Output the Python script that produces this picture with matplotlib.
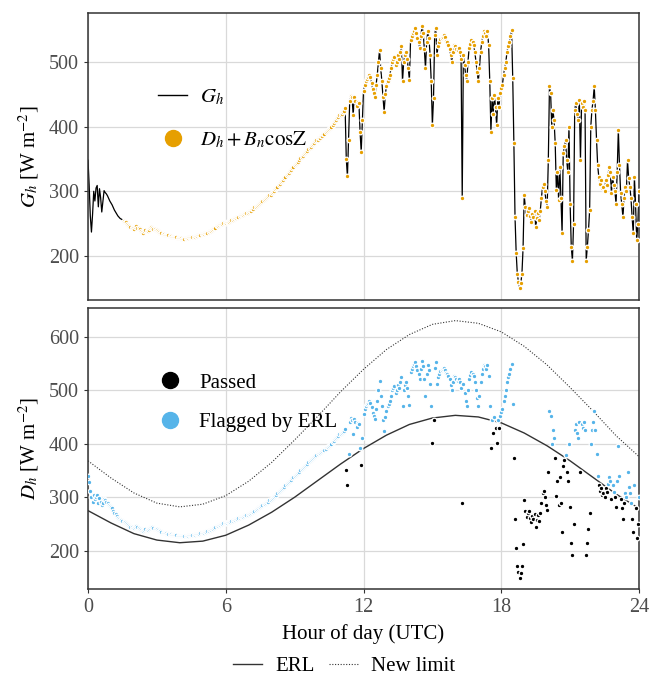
import numpy as np
import matplotlib
matplotlib.use("Agg")
import matplotlib.pyplot as plt
from matplotlib.lines import Line2D

plt.rcParams["font.family"] = ["Liberation Serif", "DejaVu Serif"]
plt.rcParams["mathtext.fontset"] = "stix"

orange = "#E69F00"
blue = "#56B4E9"
grey_txt = "#4d4d4d"

# 3-minute samples, 00:00 to 24:00 UTC
hours = np.arange(481) * 0.05
# global horizontal irradiance (W m-2), one row per hour
gh = [
    348, 310, 262, 237, 265, 300, 285, 305, 309, 276, 304, 290, 268, 285, 301, 298, 296, 293, 289, 285,
    282, 279, 275, 271, 268, 265, 262, 260, 258, 257, 256, 254, 253, 252, 250, 248, 247, 245, 244, 243,
    242, 245, 246, 244, 243, 241, 239, 237, 236, 238, 240, 239, 238, 240, 243, 245, 244, 242, 241, 240,
    240, 238, 237, 236, 235, 234, 234, 233, 233, 232, 232, 231, 231, 230, 230, 229, 229, 229, 228, 228,
    228, 228, 227, 227, 227, 228, 228, 228, 229, 229, 229, 230, 230, 230, 231, 231, 232, 232, 233, 234,
    234, 234, 235, 235, 236, 237, 238, 239, 240, 241, 243, 244, 246, 247, 248, 249, 250, 250, 251, 251,
    251, 252, 253, 253, 254, 255, 256, 257, 258, 259, 260, 261, 262, 263, 263, 264, 265, 266, 266, 267,
    268, 269, 270, 272, 273, 275, 276, 278, 279, 281, 282, 284, 285, 287, 288, 290, 291, 292, 294, 295,
    297, 299, 301, 303, 305, 307, 309, 312, 314, 316, 318, 320, 322, 325, 327, 329, 331, 333, 336, 338,
    340, 342, 344, 346, 348, 351, 353, 355, 357, 359, 361, 363, 365, 367, 369, 371, 373, 375, 377, 379,
    380, 382, 383, 385, 386, 388, 389, 391, 393, 394, 396, 398, 400, 403, 405, 408, 410, 413, 415, 418,
    418, 420, 422, 424, 428, 350, 323, 380, 440, 448, 445, 418, 446, 440, 432, 438, 436, 392, 361, 410,
    455, 464, 470, 474, 477, 480, 476, 468, 458, 452, 446, 465, 480, 500, 518, 490, 470, 445, 423, 450,
    462, 470, 475, 480, 490, 500, 505, 508, 495, 500, 510, 505, 515, 524, 470, 500, 510, 516, 505, 490,
    472, 534, 540, 545, 548, 552, 545, 537, 530, 521, 540, 555, 545, 520, 490, 530, 547, 537, 511, 470,
    402, 444, 542, 552, 511, 525, 531, 535, 537, 539, 542, 538, 532, 530, 526, 520, 510, 500, 515, 526,
    524, 520, 518, 521, 515, 505, 289, 511, 495, 480, 470, 500, 521, 528, 534, 530, 526, 515, 500, 485,
    470, 490, 516, 530, 540, 547, 545, 540, 547, 526, 470, 392, 444, 420, 449, 430, 402, 444, 430, 452,
    460, 464, 480, 490, 500, 515, 525, 531, 540, 549, 475, 374, 260, 205, 172, 160, 150, 158, 172, 212,
    294, 275, 263, 270, 274, 262, 253, 265, 260, 269, 245, 258, 266, 255, 270, 290, 307, 312, 300, 285,
    276, 348, 462, 452, 400, 426, 410, 374, 302, 330, 286, 338, 290, 235, 359, 370, 379, 348, 330, 400,
    281, 214, 193, 250, 426, 436, 420, 410, 441, 348, 436, 430, 440, 426, 193, 214, 240, 271, 400, 426,
    440, 462, 426, 380, 340, 322, 312, 318, 305, 307, 300, 317, 310, 325, 338, 330, 297, 322, 310, 300,
    281, 330, 395, 340, 297, 280, 260, 290, 307, 300, 348, 320, 307, 290, 260, 235, 322, 280, 224, 250,
    300,
]
gh = np.array(gh, dtype=float)

# diffuse horizontal (W m-2): overcast day, so it follows G_h except the first hour
dh_first_hour = [340, 328, 312, 300, 292, 305, 296, 300, 304, 290, 298, 292, 286, 290, 296, 294,
                 292, 289, 286, 283]
dh = gh.copy()
dh[:len(dh_first_hour)] = dh_first_hour

# D_h + B_n cosZ: no direct-beam record before 01:33
sum_first_hour = 1.55
dh_bncosz = np.where(hours >= sum_first_hour, gh, np.nan)

# hourly limit curves (W m-2)
limit_hours = np.arange(25)
erl = [275, 252, 232, 220, 215, 218, 229, 248, 272, 300, 331, 362, 391, 416, 436, 448,
       453, 450, 439, 420, 396, 368, 337, 306, 279]
new_limit = [368, 336, 308, 289, 282, 287, 303, 330, 365, 407, 451, 497, 539, 576, 604, 623,
             630, 625, 609, 582, 547, 505, 461, 415, 376]

flagged = dh > np.interp(hours, limit_hours, erl)

fig = plt.figure(figsize=(6.49, 6.76), dpi=100)
W, H = 649, 676
ax1 = fig.add_axes([88 / W, 1 - 300 / H, 551 / W, 287.3 / H])
ax2 = fig.add_axes([88 / W, 1 - 589.3 / H, 551 / W, 281 / H])

for ax in (ax1, ax2):
    ax.set_xlim(0, 24)
    ax.set_xticks([0, 6, 12, 18, 24])
    ax.grid(True, color="#d9d9d9", lw=0.9)
    ax.set_axisbelow(True)
    for sp in ax.spines.values():
        sp.set_color("#333333")
        sp.set_linewidth(1.1)
    ax.tick_params(colors="#333333", labelcolor=grey_txt, labelsize=14.5, length=3, width=0.8)

pt_kw = dict(s=11, edgecolors="white", linewidths=0.9, zorder=3)

# top panel
ax1.plot(hours, gh, color="black", lw=0.9, zorder=2)
ax1.scatter(hours, dh_bncosz, color=orange, **pt_kw)
ax1.set_ylim(132, 576)
ax1.set_yticks([200, 300, 400, 500])
ax1.tick_params(axis="x", bottom=False, labelbottom=False)
ax1.set_ylabel(r"$G_h$ [W m$^{-2}$]", fontsize=15, labelpad=6)
h1 = [Line2D([], [], color="black", lw=1),
      Line2D([], [], ls="none", marker="o", ms=11.5, color=orange)]
ax1.legend(h1, [r"$G_h$", r"$D_h + B_n\mathrm{cosZ}$"], loc="center left",
           bbox_to_anchor=(0.108, 0.63), frameon=False, fontsize=15, borderpad=0,
           handlelength=1.4, handletextpad=0.6, labelspacing=1.05)

# bottom panel
ax2.plot(limit_hours, erl, color="#333333", lw=1.0, zorder=2)
ax2.plot(limit_hours, new_limit, color="#333333", lw=0.8, ls=(0, (1, 1.5)), zorder=2)
ax2.scatter(hours[~flagged], dh[~flagged], color="black", **pt_kw)
ax2.scatter(hours[flagged], dh[flagged], color=blue, **pt_kw)
ax2.set_ylim(128, 653)
ax2.set_yticks([200, 300, 400, 500, 600])
ax2.set_ylabel(r"$D_h$ [W m$^{-2}$]", fontsize=15, labelpad=6)
ax2.set_xlabel("Hour of day (UTC)", fontsize=15, labelpad=5)
h2 = [Line2D([], [], ls="none", marker="o", ms=11.5, color="black"),
      Line2D([], [], ls="none", marker="o", ms=11.5, color=blue)]
ax2.legend(h2, ["Passed", "Flagged by ERL"], loc="center left",
           bbox_to_anchor=(0.103, 0.665), frameon=False, fontsize=15, borderpad=0,
           handlelength=1.4, handletextpad=0.7, labelspacing=0.95)

h3 = [Line2D([], [], color="#333333", lw=1.0),
      Line2D([], [], color="#333333", lw=0.8, ls=(0, (1, 1.5)))]
fig.legend(h3, ["ERL", "New limit"], loc="center", bbox_to_anchor=(344 / W, 1 - 666 / H),
           ncol=2, frameon=False, fontsize=15, handlelength=1.4, handletextpad=0.6,
           columnspacing=0.7, borderpad=0)

fig.savefig("out.png", dpi=100)
